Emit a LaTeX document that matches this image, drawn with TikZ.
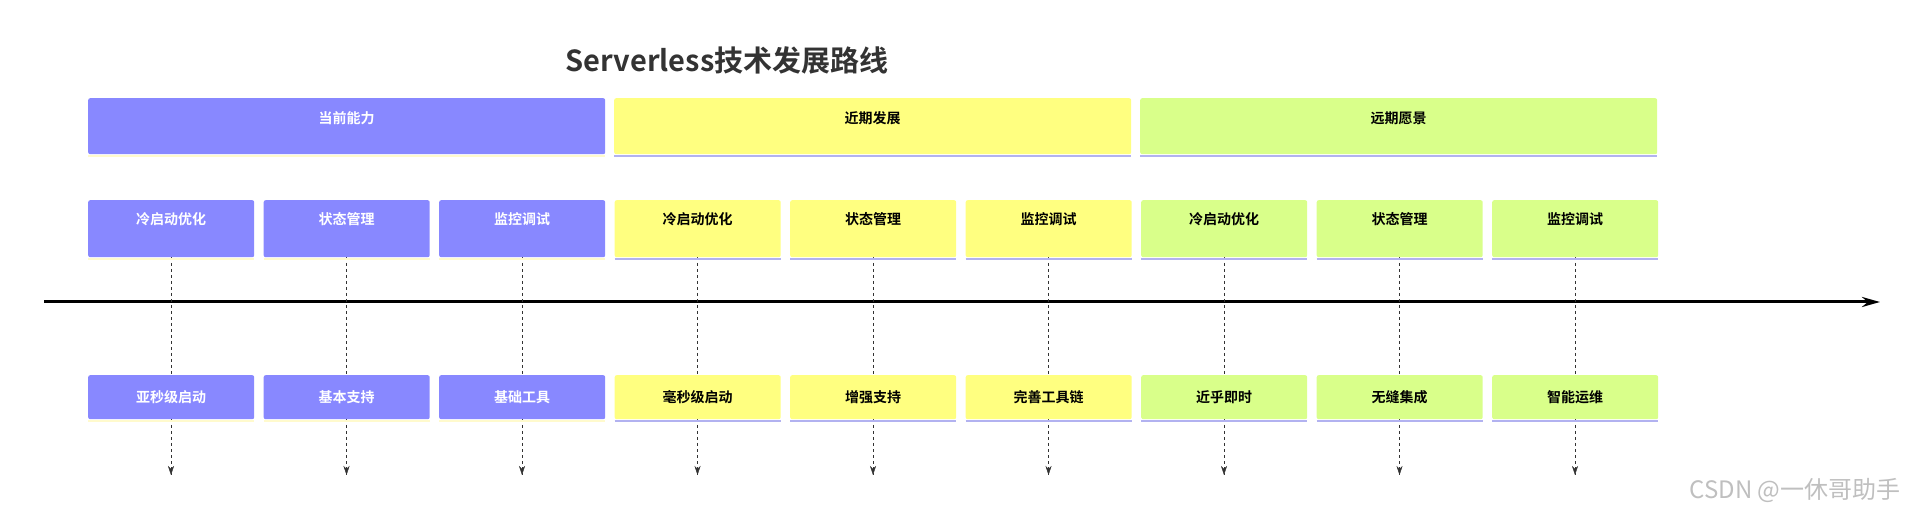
\documentclass[tikz,border=0pt]{standalone}
\usepackage{fontspec}
\setmainfont{Liberation Sans}
\newfontfamily\cjk{Noto Sans CJK SC}[BoldFont={* Bold}]
\usetikzlibrary{positioning, calc, arrows.meta}
\definecolor{nowblue}{RGB}{136, 136, 255}
\definecolor{nearyellow}{RGB}{255, 255, 128}
\definecolor{fargreen}{RGB}{217, 255, 138}
\definecolor{lineblue}{RGB}{178, 178, 240}
\definecolor{linecream}{RGB}{255, 250, 205}

\tikzset{
  phase/.style={minimum width=517pt, minimum height=56pt, inner sep=0pt},
  item/.style={minimum width=166pt, minimum height=57pt, inner sep=0pt},
  result/.style={minimum width=166pt, minimum height=44pt, inner sep=0pt},
  label/.style={font=\cjk\bfseries\fontsize{14}{16}\selectfont}
}

\begin{document}
\begin{tikzpicture}[x=1pt, y=-1pt]
    \useasboundingbox (0,0) rectangle (1920,518);

    % Title
    \node[font=\cjk\bfseries\fontsize{29}{32}\selectfont, text=black!80] (title) at (727,60) {Serverless技术发展路线};

    % Timeline axis
    \coordinate (axisL) at (44,302);
    \coordinate (axisR) at (1880,302);
    \draw[line width=3pt, -{Stealth[length=18pt, width=10pt]}] (axisL) -- (axisR);

    % Phase headers
    \foreach \name/\txt/\fillc/\linec/\textc [count=\i from 0] in
        {now/当前能力/nowblue/linecream/white,
         near/近期发展/nearyellow/lineblue/black,
         far/远期愿景/fargreen/lineblue/black} {
        \node[phase, fill=\fillc, rounded corners=2pt, anchor=north west] (\name) at (88+526*\i,98) {};
        \draw[\linec, line width=2.5pt] ($(\name.south west)+(0,1.5)$) -- ($(\name.south east)+(0,1.5)$);
        \node[label, text=\textc, below=10pt of \name.north] (\name-txt) {\txt};
    }

    % Items and results
    \foreach \top/\bottom/\fillc/\linec/\textc [count=\i from 0] in
        {冷启动优化/亚秒级启动/nowblue/linecream/white,
         状态管理/基本支持/nowblue/linecream/white,
         监控调试/基础工具/nowblue/linecream/white,
         冷启动优化/毫秒级启动/nearyellow/lineblue/black,
         状态管理/增强支持/nearyellow/lineblue/black,
         监控调试/完善工具链/nearyellow/lineblue/black,
         冷启动优化/近乎即时/fargreen/lineblue/black,
         状态管理/无缝集成/fargreen/lineblue/black,
         监控调试/智能运维/fargreen/lineblue/black} {
        \coordinate (end\i) at (171+175.5*\i,475);
        \draw[dashed, thick, black!80] (171+175.5*\i,257) -- (end\i);
        \draw[black!80, -{Stealth[length=9pt, width=6pt]}] ($(end\i)+(0,-6)$) -- (end\i);
        % upper box
        \node[item, fill=\fillc, rounded corners=2pt, anchor=north west] (t\i) at (88+175.5*\i,200) {};
        \draw[\linec, line width=2.5pt] ($(t\i.south west)+(0,1.5)$) -- ($(t\i.south east)+(0,1.5)$);
        \node[label, text=\textc, below=9pt of t\i.north] (t\i-txt) {\top};
        % lower box
        \node[result, fill=\fillc, rounded corners=2pt, anchor=north west] (b\i) at (88+175.5*\i,375) {};
        \draw[\linec, line width=2.5pt] ($(b\i.south west)+(0,1.5)$) -- ($(b\i.south east)+(0,1.5)$);
        \node[label, text=\textc] (b\i-txt) at (b\i.center) {\bottom};
    }

    % Watermark
    \node[font=\cjk\fontsize{24}{26}\selectfont, text=black!25] (mark) at (1795,490) {CSDN @一休哥助手};
\end{tikzpicture}
\end{document}
